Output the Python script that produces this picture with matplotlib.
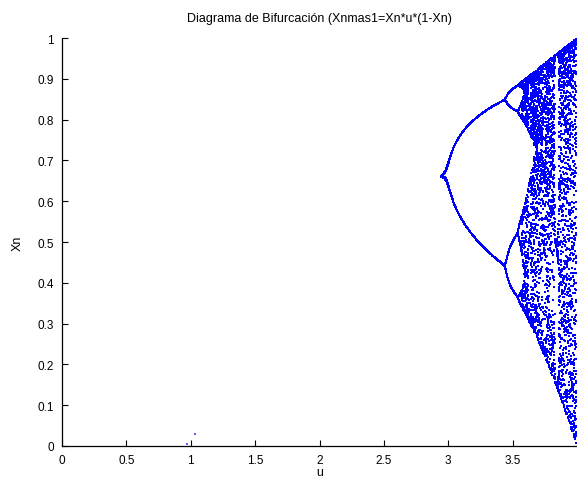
"""Diagrama de bifurcacion del mapa logistico, Xn+1 = Xn*u*(1-Xn)."""
import numpy as np
import matplotlib
matplotlib.use("Agg")
import matplotlib.pyplot as plt

# parameter sweep shown in the picture (points only appear for u ~2.94 .. 3.99)
U_START = 2.94
U_STOP = 3.995
U_STEP = 0.0015
X0 = 0.5
N_TRANSIENT = 60       # iterations thrown away
N_KEEP = 16            # iterations plotted per u

# two stray points near u = 1
STRAY_U = [0.97, 1.03]
STRAY_X = [0.004, 0.030]

X_TICKS = [0, 0.5, 1, 1.5, 2, 2.5, 3, 3.5]
X_TICK_LABELS = ["0", "0.5", "1", "1.5", "2", "2.5", "3", "3.5"]
Y_TICKS = [0, 0.1, 0.2, 0.3, 0.4, 0.5, 0.6, 0.7, 0.8, 0.9, 1]
Y_TICK_LABELS = ["0", "0.1", "0.2", "0.3", "0.4", "0.5", "0.6", "0.7", "0.8", "0.9", "1"]

TITLE = "Diagrama de Bifurcación (Xnmas1=Xn*u*(1-Xn)"


def bifurcation(u_vals, x0, n_transient, n_keep):
    x = np.full(len(u_vals), x0)
    for _ in range(n_transient):
        x = u_vals * x * (1 - x)
    us, xs = [], []
    for _ in range(n_keep):
        x = u_vals * x * (1 - x)
        us.append(u_vals.copy()); xs.append(x.copy())
    return np.concatenate(us), np.concatenate(xs)


plt.rcParams["font.family"] = ["Liberation Sans", "DejaVu Sans"]

u_vals = np.arange(U_START, U_STOP, U_STEP)
bu, bx = bifurcation(u_vals, X0, N_TRANSIENT, N_KEEP)

fig = plt.figure(figsize=(5.77, 4.81), dpi=100)
ax = fig.add_axes([0.1075, 0.0707, 0.8925, 0.8482])

ax.scatter(bu, bx, s=4.2, marker="s", linewidths=0, color="#0000ff")
ax.scatter(STRAY_U, STRAY_X, s=2.5, marker="s", linewidths=0, color="#6060ff")

ax.set_xlim(0, 4)
ax.set_ylim(0, 1)
ax.set_xticks(X_TICKS)
ax.set_xticklabels(X_TICK_LABELS)
ax.set_yticks(Y_TICKS)
ax.set_yticklabels(Y_TICK_LABELS)
ax.tick_params(direction="in", length=4, width=0.8, labelsize=8.5, pad=6)
for side in ("top", "right"):
    ax.spines[side].set_visible(False)
ax.spines["left"].set_linewidth(0.9)
ax.spines["bottom"].set_linewidth(0.9)

ax.set_title(TITLE, fontsize=9, pad=12)
ax.set_ylabel("Xn", fontsize=9, labelpad=10)
ax.set_xlabel("u", fontsize=9, labelpad=0)

fig.savefig("out.png", dpi=100)
